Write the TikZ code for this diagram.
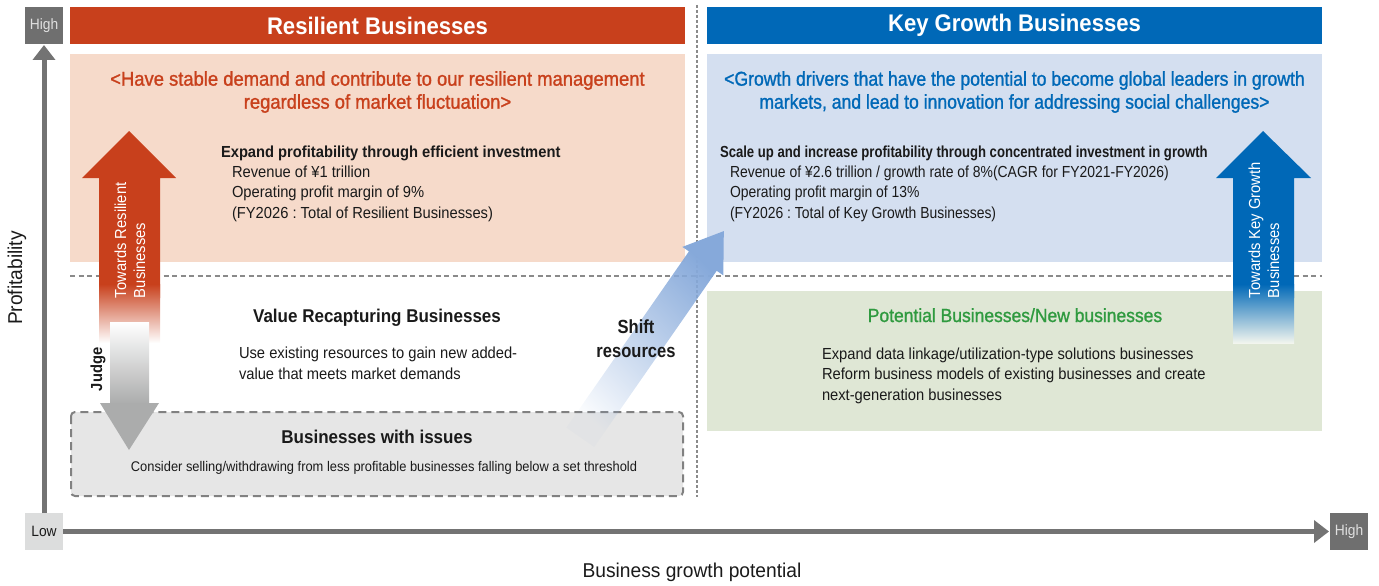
\documentclass[tikz,border=0pt]{standalone}
\usepackage{fontspec}
\setmainfont[FakeStretch=0.92]{Liberation Sans}
\newfontfamily\fsqueeze[FakeStretch=0.82]{Liberation Sans}
\newfontfamily\fright[FakeStretch=0.87]{Liberation Sans}
\newfontfamily\faxis[FakeStretch=0.96]{Liberation Sans}
\newfontfamily\fmedA[FakeStretch=0.92,FakeBold=1.2]{Liberation Sans}
\newfontfamily\fmedB[FakeStretch=0.88,FakeBold=1.2]{Liberation Sans}
\frenchspacing
\usetikzlibrary{fadings,arrows.meta}
\tikzfading[name=shiftfade, top color=transparent!0, middle color=transparent!5, bottom color=transparent!96]
\definecolor{resred}{HTML}{C8401C}
\definecolor{keyblue}{HTML}{0068B7}
\definecolor{peach}{HTML}{F6DACA}
\definecolor{lightblue}{HTML}{D4DFF0}
\definecolor{lightgreen}{HTML}{DFE7D5}
\definecolor{boxgray}{HTML}{E6E6E6}
\definecolor{axisgray}{HTML}{737373}
\definecolor{highgray}{HTML}{6F6F6F}
\definecolor{lowgray}{HTML}{DCDDDD}
\definecolor{shiftblue}{HTML}{86A9DA}
\definecolor{greentext}{HTML}{2F9A3F}
\definecolor{judgegray}{HTML}{ABACAC}
\definecolor{txt}{HTML}{1A1A1A}
\definecolor{dashgray}{HTML}{8A8A8A}
\begin{document}
\begin{tikzpicture}[x=1pt,y=-1pt,
  every node/.style={inner sep=0pt, outer sep=0pt, text=txt},
  body/.style={font=\fontsize{16}{20.5}\selectfont, align=left, anchor=base west},
  bodyb/.style={font=\fontsize{16}{20.5}\selectfont\bfseries, anchor=base west},
  subtitle/.style={font=\fontsize{18.5}{22}\selectfont\bfseries, anchor=base},
  headline/.style={font=\fontsize{20}{23}\selectfont, align=center},
  bartitle/.style={font=\fontsize{24}{28}\selectfont\bfseries, text=white, minimum width=615pt, minimum height=37pt},
  axisbox/.style={minimum width=38pt, minimum height=37pt, font=\fontsize{15}{18}\selectfont},
  axisline/.style={draw=axisgray, line width=5pt, -{Triangle[width=22pt,length=15pt]}},
  axislabel/.style={font=\faxis\fontsize{20}{24}\selectfont},
  rottext/.style={font=\fontsize{16}{19}\selectfont, text=white, align=left, rotate=90, anchor=west}
]
\useasboundingbox (0,0) rectangle (1379,586);

% background regions
\fill[peach] (70,54) rectangle (685,262);
\fill[lightblue] (707,54) rectangle (1322,262);
\fill[lightgreen] (707,291) rectangle (1322,431);
\draw[dashgray, line width=1.2pt, dash pattern=on 5pt off 3.5pt] (70,276) -- (1322,276);
\draw[dashgray, line width=1.6pt, dash pattern=on 3pt off 2pt] (697,5) -- (697,497);
\draw[fill=boxgray, draw=axisgray!90, line width=2pt, dash pattern=on 8pt off 5pt, rounded corners=4pt] (71,412) rectangle (683,496);

% title bars
\node[bartitle, fill=resred] (rbar) at (377.5,25.5) {Resilient Businesses};
\node[bartitle, fill=keyblue] (kbar) at (1014.5,25.5) {Key Growth Businesses};

% axes
\node[axisbox, fill=highgray, text=white!88!black] (yhigh) at (44,25.5) {High};
\node[axisbox, fill=lowgray] (ylow) at (44,531.5) {Low};
\node[axisbox, fill=highgray, text=white!88!black] (xhigh) at (1349,531.5) {High};
\draw[axisline] (ylow.north) -- ([yshift=-1pt]yhigh.south);
\draw[axisline] (ylow.east) -- ([xshift=-1pt]xhigh.west);
\node[axislabel, rotate=90] (ylabel) at (17,278) {Profitability};
\node[axislabel] (xlabel) at (692,572) {Business growth potential};

% red arrow (towards resilient)
\fill[resred] (129,131) -- (176,178) -- (160,178) -- (160,298) -- (99,298) -- (99,178) -- (82,178) -- cycle;
\shade[top color=resred, bottom color=white] (99,284) rectangle (160,343);
% blue arrow (towards key growth)
\fill[keyblue] (1263,131) -- (1311,178) -- (1294,178) -- (1294,298) -- (1233,298) -- (1233,178) -- (1216,178) -- cycle;
\shade[top color=keyblue, bottom color=white!60!lightgreen] (1233,284) rectangle (1294,343);
% judge arrow
\shade[top color=white, bottom color=judgegray] (110,322) rectangle (149,404);
\fill[judgegray] (100,403) -- (159,403) -- (129,450) -- cycle;
% shift arrow
\fill[shiftblue, path fading=shiftfade, fading angle=-35]
  (566.5,427.6) -- (689.1,251.3) -- (682.5,246.8) -- (724,231) -- (723.5,275.3) -- (716.9,270.7) -- (594.3,447) -- cycle;

% arrow labels
\node[rottext] (rarrowtxt) at (130,298) {Towards Resilient\\Businesses};
\node[rottext] (karrowtxt) at (1264,298) {Towards Key Growth\\Businesses};
\node[font=\fontsize{16}{19}\selectfont\bfseries, rotate=90, anchor=west] (judge) at (98,391) {Judge};
\node[font=\fright\fontsize{19}{24}\selectfont\bfseries, align=center] (shift) at (636,339) {Shift\\resources};

% headlines
\node[headline, font=\fmedA\fontsize{20}{23}\selectfont, text=resred] (rhead) at (377.5,92) {<Have stable demand and contribute to our resilient management\\regardless of market fluctuation>};
\node[headline, font=\fmedB\fontsize{20}{23}\selectfont, text=keyblue] (khead) at (1014.5,92) {<Growth drivers that have the potential to become global leaders in growth\\markets, and lead to innovation for addressing social challenges>};

% resilient text
\node[bodyb] (rtitle) at (221,157) {Expand profitability through efficient investment};
\node[body] (rlines) at (232,218) {Revenue of ¥1 trillion\\Operating profit margin of 9\%\\(FY2026 : Total of Resilient Businesses)};

% key growth text
\node[bodyb, font=\fsqueeze\fontsize{16}{20.5}\selectfont\bfseries] (ktitle) at (720,157) {Scale up and increase profitability through concentrated investment in growth};
\node[body, font=\fright\fontsize{16}{20.5}\selectfont] (klines) at (730,218) {Revenue of ¥2.6 trillion / growth rate of 8\%(CAGR for FY2021-FY2026)\\Operating profit margin of 13\%\\(FY2026 : Total of Key Growth Businesses)};

% value recapturing
\node[subtitle] (vtitle) at (377,322) {Value Recapturing Businesses};
\node[body] (vlines) at (239,379) {Use existing resources to gain new added-\\value that meets market demands};

% issues
\node[subtitle] (ititle) at (377,443) {Businesses with issues};
\node[font=\fontsize{14}{17}\selectfont, anchor=base] (itext) at (384,471) {Consider selling/withdrawing from less profitable businesses falling below a set threshold};

% potential
\node[font=\fmedA\fontsize{19}{22}\selectfont, text=greentext, anchor=base] (ptitle) at (1015,322) {Potential Businesses/New businesses};
\node[body] (plines) at (822,400) {Expand data linkage/utilization-type solutions businesses\\Reform business models of existing businesses and create\\next-generation businesses};
\end{tikzpicture}
\end{document}
